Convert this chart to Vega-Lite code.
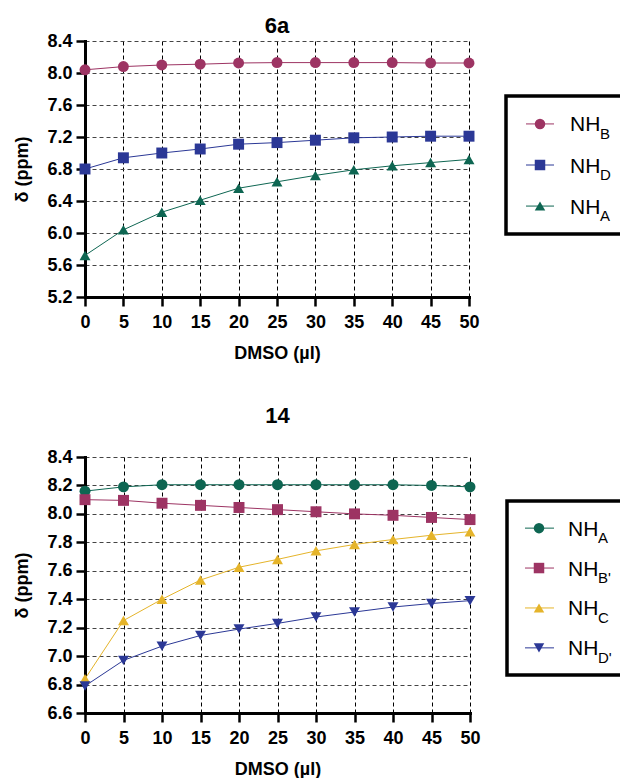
{
  "$schema": "https://vega.github.io/schema/vega-lite/v6.json",
  "padding": {"left": 13, "top": 15, "right": 0, "bottom": 0},
  "background": "white",
  "config": {
    "font": "Liberation Sans",
    "view": {"stroke": null},
    "axis": {
      "domainColor": "black", "domainWidth": 3, "domainCap": "square",
      "tickColor": "black", "tickWidth": 2.5, "tickSize": 9,
      "labelFont": "Liberation Sans", "labelFontSize": 18, "labelFontWeight": "bold", "labelColor": "black",
      "titleFont": "Liberation Sans", "titleFontSize": 18, "titleFontWeight": "bold", "titleColor": "black",
      "gridDash": [4, 3], "gridWidth": 1, "labelFlush": false, "labelOverlap": false
    },
    "axisX": {"gridColor": "black", "labelPadding": 7, "titlePadding": 13},
    "axisY": {"gridColor": "#444444", "labelPadding": 4, "titlePadding": 15},
    "title": {"font": "Liberation Sans", "fontSize": 22, "fontWeight": "bold", "color": "black", "baseline": "alphabetic"}
  },
  "datasets": {
    "p6a": [
      {"dmso": 0, "ppm": 8.04, "series": "NHB"}, {"dmso": 5, "ppm": 8.08, "series": "NHB"}, {"dmso": 10, "ppm": 8.10, "series": "NHB"}, {"dmso": 15, "ppm": 8.11, "series": "NHB"}, {"dmso": 20, "ppm": 8.125, "series": "NHB"}, {"dmso": 25, "ppm": 8.13, "series": "NHB"}, {"dmso": 30, "ppm": 8.13, "series": "NHB"}, {"dmso": 35, "ppm": 8.13, "series": "NHB"}, {"dmso": 40, "ppm": 8.13, "series": "NHB"}, {"dmso": 45, "ppm": 8.125, "series": "NHB"}, {"dmso": 50, "ppm": 8.125, "series": "NHB"},
      {"dmso": 0, "ppm": 6.80, "series": "NHD"}, {"dmso": 5, "ppm": 6.94, "series": "NHD"}, {"dmso": 10, "ppm": 7.00, "series": "NHD"}, {"dmso": 15, "ppm": 7.05, "series": "NHD"}, {"dmso": 20, "ppm": 7.11, "series": "NHD"}, {"dmso": 25, "ppm": 7.13, "series": "NHD"}, {"dmso": 30, "ppm": 7.16, "series": "NHD"}, {"dmso": 35, "ppm": 7.19, "series": "NHD"}, {"dmso": 40, "ppm": 7.20, "series": "NHD"}, {"dmso": 45, "ppm": 7.21, "series": "NHD"}, {"dmso": 50, "ppm": 7.21, "series": "NHD"},
      {"dmso": 0, "ppm": 5.72, "series": "NHA"}, {"dmso": 5, "ppm": 6.04, "series": "NHA"}, {"dmso": 10, "ppm": 6.26, "series": "NHA"}, {"dmso": 15, "ppm": 6.41, "series": "NHA"}, {"dmso": 20, "ppm": 6.56, "series": "NHA"}, {"dmso": 25, "ppm": 6.64, "series": "NHA"}, {"dmso": 30, "ppm": 6.72, "series": "NHA"}, {"dmso": 35, "ppm": 6.79, "series": "NHA"}, {"dmso": 40, "ppm": 6.84, "series": "NHA"}, {"dmso": 45, "ppm": 6.88, "series": "NHA"}, {"dmso": 50, "ppm": 6.92, "series": "NHA"}
    ],
    "p14": [
      {"dmso": 0, "ppm": 8.16, "series": "NHA"}, {"dmso": 5, "ppm": 8.19, "series": "NHA"}, {"dmso": 10, "ppm": 8.205, "series": "NHA"}, {"dmso": 15, "ppm": 8.205, "series": "NHA"}, {"dmso": 20, "ppm": 8.205, "series": "NHA"}, {"dmso": 25, "ppm": 8.205, "series": "NHA"}, {"dmso": 30, "ppm": 8.205, "series": "NHA"}, {"dmso": 35, "ppm": 8.205, "series": "NHA"}, {"dmso": 40, "ppm": 8.205, "series": "NHA"}, {"dmso": 45, "ppm": 8.20, "series": "NHA"}, {"dmso": 50, "ppm": 8.19, "series": "NHA"},
      {"dmso": 0, "ppm": 8.10, "series": "NHB'"}, {"dmso": 5, "ppm": 8.095, "series": "NHB'"}, {"dmso": 10, "ppm": 8.075, "series": "NHB'"}, {"dmso": 15, "ppm": 8.06, "series": "NHB'"}, {"dmso": 20, "ppm": 8.045, "series": "NHB'"}, {"dmso": 25, "ppm": 8.03, "series": "NHB'"}, {"dmso": 30, "ppm": 8.015, "series": "NHB'"}, {"dmso": 35, "ppm": 8.00, "series": "NHB'"}, {"dmso": 40, "ppm": 7.99, "series": "NHB'"}, {"dmso": 45, "ppm": 7.975, "series": "NHB'"}, {"dmso": 50, "ppm": 7.96, "series": "NHB'"},
      {"dmso": 0, "ppm": 6.84, "series": "NHC"}, {"dmso": 5, "ppm": 7.25, "series": "NHC"}, {"dmso": 10, "ppm": 7.40, "series": "NHC"}, {"dmso": 15, "ppm": 7.535, "series": "NHC"}, {"dmso": 20, "ppm": 7.625, "series": "NHC"}, {"dmso": 25, "ppm": 7.68, "series": "NHC"}, {"dmso": 30, "ppm": 7.74, "series": "NHC"}, {"dmso": 35, "ppm": 7.785, "series": "NHC"}, {"dmso": 40, "ppm": 7.82, "series": "NHC"}, {"dmso": 45, "ppm": 7.85, "series": "NHC"}, {"dmso": 50, "ppm": 7.875, "series": "NHC"},
      {"dmso": 0, "ppm": 6.79, "series": "NHD'"}, {"dmso": 5, "ppm": 6.97, "series": "NHD'"}, {"dmso": 10, "ppm": 7.07, "series": "NHD'"}, {"dmso": 15, "ppm": 7.145, "series": "NHD'"}, {"dmso": 20, "ppm": 7.19, "series": "NHD'"}, {"dmso": 25, "ppm": 7.23, "series": "NHD'"}, {"dmso": 30, "ppm": 7.275, "series": "NHD'"}, {"dmso": 35, "ppm": 7.31, "series": "NHD'"}, {"dmso": 40, "ppm": 7.345, "series": "NHD'"}, {"dmso": 45, "ppm": 7.37, "series": "NHD'"}, {"dmso": 50, "ppm": 7.39, "series": "NHD'"}
    ],
    "leg6a": [
      {"series": "NHB", "main": "NH", "sub": "B"},
      {"series": "NHD", "main": "NH", "sub": "D"},
      {"series": "NHA", "main": "NH", "sub": "A"}
    ],
    "leg14": [
      {"series": "NHA", "main": "NH", "sub": "A"},
      {"series": "NHB'", "main": "NH", "sub": "B'"},
      {"series": "NHC", "main": "NH", "sub": "C"},
      {"series": "NHD'", "main": "NH", "sub": "D'"}
    ]
  },
  "resolve": {"scale": {"x": "independent", "y": "independent", "color": "independent", "shape": "independent"}},
  "spacing": 43,
  "vconcat": [
    {
      "resolve": {"scale": {"x": "independent", "y": "independent", "color": "independent", "shape": "independent"}},
      "bounds": "flush",
      "spacing": 37,
      "hconcat": [
        {
          "width": 384, "height": 256,
          "title": {"text": "6a", "offset": -6},
          "data": {"name": "p6a"},
          "encoding": {
            "x": {"field": "dmso", "type": "quantitative", "scale": {"domain": [0, 50], "nice": false}, "axis": {"values": [0, 5, 10, 15, 20, 25, 30, 35, 40, 45, 50], "title": "DMSO (µl)"}},
            "y": {"field": "ppm", "type": "quantitative", "scale": {"domain": [5.2, 8.4], "nice": false, "zero": false}, "axis": {"values": [5.2, 5.6, 6.0, 6.4, 6.8, 7.2, 7.6, 8.0, 8.4], "format": ".1f", "title": "δ (ppm)"}},
            "color": {"field": "series", "type": "nominal", "scale": {"domain": ["NHB", "NHD", "NHA"], "range": ["#9d3463", "#2b3896", "#0e6652"]}, "legend": null}
          },
          "layer": [
            {"mark": {"type": "line", "strokeWidth": 1}, "encoding": {}},
            {"mark": {"type": "point", "filled": true, "opacity": 1, "size": 120}, "encoding": {"shape": {"field": "series", "type": "nominal", "scale": {"domain": ["NHB", "NHD", "NHA"], "range": ["circle", "square", "triangle-up"]}, "legend": null}}}
          ]
        },
        {
          "bounds": "flush",
          "spacing": 0,
          "vconcat": [
            {"width": 130, "height": 55, "data": {"values": []}, "mark": "point", "encoding": {}},
            {
              "width": 130, "height": 138,
              "view": {"stroke": "black", "strokeWidth": 3.5},
              "data": {"name": "leg6a"},
              "encoding": {
                "y": {"field": "series", "type": "nominal", "scale": {"type": "point", "domain": ["NHB", "NHD", "NHA"], "padding": 0.68}, "axis": null},
                "color": {"field": "series", "type": "nominal", "scale": {"domain": ["NHB", "NHD", "NHA"], "range": ["#9d3463", "#2b3896", "#0e6652"]}, "legend": null}
              },
              "layer": [
                {"mark": {"type": "rule", "strokeWidth": 1}, "encoding": {"x": {"datum": 20, "type": "quantitative", "scale": {"domain": [0, 130], "nice": false, "zero": false}, "axis": null}, "x2": {"datum": 48}}},
                {"mark": {"type": "point", "filled": true, "opacity": 1, "size": 110}, "encoding": {"x": {"datum": 34, "type": "quantitative"}, "shape": {"field": "series", "type": "nominal", "scale": {"domain": ["NHB", "NHD", "NHA"], "range": ["circle", "square", "triangle-up"]}, "legend": null}}},
                {"mark": {"type": "text", "align": "left", "baseline": "alphabetic", "fontSize": 21, "dy": 7.5}, "encoding": {"x": {"datum": 64, "type": "quantitative"}, "text": {"field": "main"}, "color": {"value": "black"}}},
                {"mark": {"type": "text", "align": "left", "baseline": "alphabetic", "fontSize": 15, "dy": 15}, "encoding": {"x": {"datum": 94, "type": "quantitative"}, "text": {"field": "sub"}, "color": {"value": "black"}}}
              ]
            }
          ]
        }
      ]
    },
    {
      "resolve": {"scale": {"x": "independent", "y": "independent", "color": "independent", "shape": "independent"}},
      "bounds": "flush",
      "spacing": 37,
      "hconcat": [
        {
          "width": 385, "height": 256,
          "title": {"text": "14", "offset": 20},
          "data": {"name": "p14"},
          "encoding": {
            "x": {"field": "dmso", "type": "quantitative", "scale": {"domain": [0, 50], "nice": false}, "axis": {"values": [0, 5, 10, 15, 20, 25, 30, 35, 40, 45, 50], "title": "DMSO (µl)"}},
            "y": {"field": "ppm", "type": "quantitative", "scale": {"domain": [6.6, 8.4], "nice": false, "zero": false}, "axis": {"values": [6.6, 6.8, 7.0, 7.2, 7.4, 7.6, 7.8, 8.0, 8.2, 8.4], "format": ".1f", "title": "δ (ppm)"}},
            "color": {"field": "series", "type": "nominal", "scale": {"domain": ["NHA", "NHB'", "NHC", "NHD'"], "range": ["#0e6652", "#9d3463", "#e5b42a", "#2b3896"]}, "legend": null}
          },
          "layer": [
            {"mark": {"type": "line", "strokeWidth": 1}, "encoding": {}},
            {"mark": {"type": "point", "filled": true, "opacity": 1, "size": 120}, "encoding": {"shape": {"field": "series", "type": "nominal", "scale": {"domain": ["NHA", "NHB'", "NHC", "NHD'"], "range": ["circle", "square", "triangle-up", "triangle-down"]}, "legend": null}}}
          ]
        },
        {
          "bounds": "flush",
          "spacing": 0,
          "vconcat": [
            {"width": 130, "height": 44, "data": {"values": []}, "mark": "point", "encoding": {}},
            {
              "width": 130, "height": 174,
              "view": {"stroke": "black", "strokeWidth": 3.5},
              "data": {"name": "leg14"},
              "encoding": {
                "y": {"field": "series", "type": "nominal", "scale": {"type": "point", "domain": ["NHA", "NHB'", "NHC", "NHD'"], "padding": 0.68}, "axis": null},
                "color": {"field": "series", "type": "nominal", "scale": {"domain": ["NHA", "NHB'", "NHC", "NHD'"], "range": ["#0e6652", "#9d3463", "#e5b42a", "#2b3896"]}, "legend": null}
              },
              "layer": [
                {"mark": {"type": "rule", "strokeWidth": 1}, "encoding": {"x": {"datum": 18, "type": "quantitative", "scale": {"domain": [0, 130], "nice": false, "zero": false}, "axis": null}, "x2": {"datum": 47}}},
                {"mark": {"type": "point", "filled": true, "opacity": 1, "size": 110}, "encoding": {"x": {"datum": 32, "type": "quantitative"}, "shape": {"field": "series", "type": "nominal", "scale": {"domain": ["NHA", "NHB'", "NHC", "NHD'"], "range": ["circle", "square", "triangle-up", "triangle-down"]}, "legend": null}}},
                {"mark": {"type": "text", "align": "left", "baseline": "alphabetic", "fontSize": 21, "dy": 7.5}, "encoding": {"x": {"datum": 61, "type": "quantitative"}, "text": {"field": "main"}, "color": {"value": "black"}}},
                {"mark": {"type": "text", "align": "left", "baseline": "alphabetic", "fontSize": 15, "dy": 15}, "encoding": {"x": {"datum": 91, "type": "quantitative"}, "text": {"field": "sub"}, "color": {"value": "black"}}}
              ]
            }
          ]
        }
      ]
    }
  ]
}
